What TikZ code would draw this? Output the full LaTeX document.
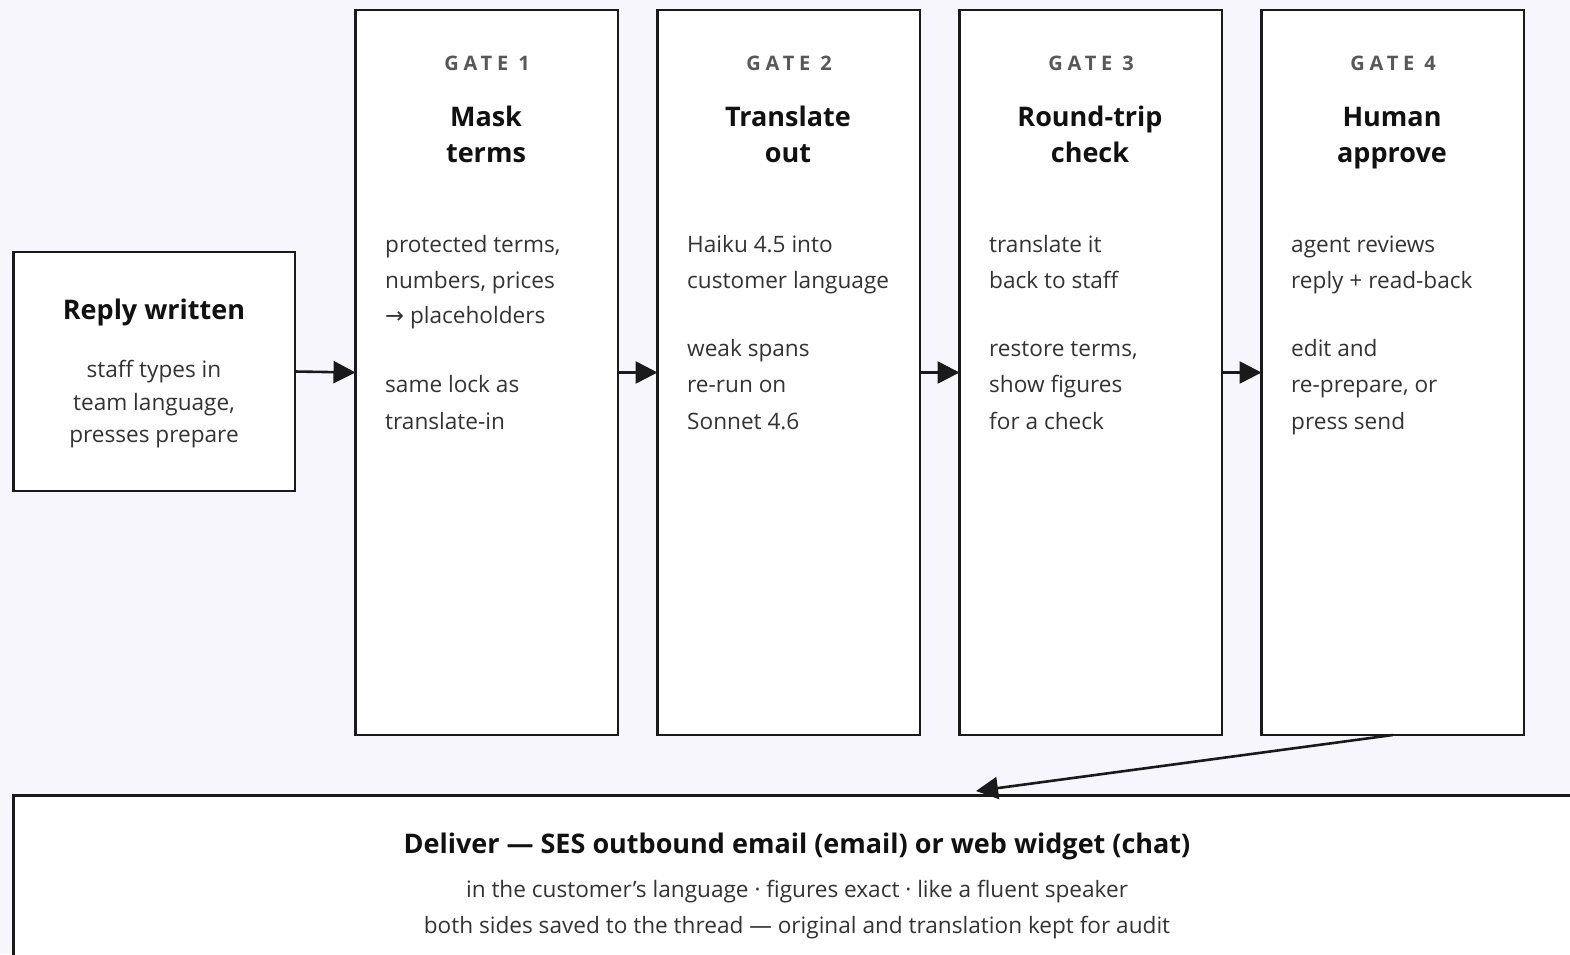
\documentclass[tikz,border=0pt]{standalone}
\usepackage{fontspec}
\setmainfont{Open Sans}
\newfontfamily\symfont{DejaVu Sans}
\usetikzlibrary{arrows.meta}
\definecolor{pagebg}{HTML}{F7F6FD}
\definecolor{edge}{HTML}{1A1A1A}
\definecolor{headc}{HTML}{111111}
\definecolor{bodyc}{HTML}{333333}
\definecolor{tagc}{HTML}{585858}
\tikzset{
  x=1pt, y=-1pt,
  box/.style={draw=edge, fill=white, line width=2.6pt, rectangle, inner sep=0pt, outer sep=0pt},
  gatebox/.style={box, minimum width=262.5pt, minimum height=725pt, anchor=north west},
  tag/.style={anchor=base, inner sep=0pt, text=tagc, font=\fontsize{20}{20}\selectfont\bfseries\addfontfeatures{LetterSpace=24}},
  head/.style={anchor=base, inner sep=0pt, text=headc, font=\fontsize{27}{27}\selectfont\bfseries},
  body/.style={anchor=base west, inner sep=0pt, text=bodyc, font=\fontsize{22.6}{22.6}\selectfont},
  cbody/.style={body, anchor=base},
  flow/.style={draw=edge, line width=2.6pt, -{Triangle[length=22pt,width=22pt]}},
}
\begin{document}
\begin{tikzpicture}
\useasboundingbox (0,0) rectangle (1570,954);
\fill[pagebg] (0,0) rectangle (1570,954);
\clip (0,0) rectangle (1570,954);

% input box
\node[box, minimum width=281.5pt, minimum height=239pt, anchor=north west] (reply) at (13.5,252) {};
\node[head] (replyh) at (154,319) {Reply written};
\node[cbody] (reply1) at (154,377) {staff types in};
\node[cbody] (reply2) at (154,410) {team language,};
\node[cbody] (reply3) at (154,442) {presses prepare};

% the four gates
\node[gatebox] (g1) at (355.5,10) {};
\node[gatebox] (g2) at (657.5,10) {};
\node[gatebox] (g3) at (959.5,10) {};
\node[gatebox] (g4) at (1261.5,10) {};

% gate 1
\node[tag]  (g1t)  at (487,70) {GATE 1};
\node[head] (g1h1) at (486,126) {Mask};
\node[head] (g1h2) at (486,162) {terms};
\node[body] (g1a) at (385,252) {protected terms,};
\node[body] (g1b) at (385,288) {numbers, prices};
\node[body] (g1c) at (385,323) {{\symfont →} placeholders};
\node[body] (g1d) at (385,392) {same lock as};
\node[body] (g1e) at (385,429) {translate-in};

% gate 2
\node[tag]  (g2t)  at (789,70) {GATE 2};
\node[head] (g2h1) at (788,126) {Translate};
\node[head] (g2h2) at (788,162) {out};
\node[body] (g2a) at (687,252) {Haiku 4.5 into};
\node[body] (g2b) at (687,288) {customer language};
\node[body] (g2c) at (687,356) {weak spans};
\node[body] (g2d) at (687,392) {re-run on};
\node[body] (g2e) at (687,429) {Sonnet 4.6};

% gate 3
\node[tag]  (g3t)  at (1091,70) {GATE 3};
\node[head] (g3h1) at (1090,126) {Round-trip};
\node[head] (g3h2) at (1090,162) {check};
\node[body] (g3a) at (989,252) {translate it};
\node[body] (g3b) at (989,288) {back to staff};
\node[body] (g3c) at (989,356) {restore terms,};
\node[body] (g3d) at (989,392) {show figures};
\node[body] (g3e) at (989,429) {for a check};

% gate 4
\node[tag]  (g4t)  at (1393,70) {GATE 4};
\node[head] (g4h1) at (1392,126) {Human};
\node[head] (g4h2) at (1392,162) {approve};
\node[body] (g4a) at (1291,252) {agent reviews};
\node[body] (g4b) at (1291,288) {reply + read-back};
\node[body] (g4c) at (1291,356) {edit and};
\node[body] (g4d) at (1291,392) {re-prepare, or};
\node[body] (g4e) at (1291,429) {press send};

% delivery box
\node[box, minimum width=1570pt, minimum height=260pt, anchor=north west] (deliver) at (13.5,795.5) {};
\node[head] (delh) at (797,853) {Deliver — SES outbound email (email) or web widget (chat)};
\node[cbody] (del1) at (797,897) {in the customer’s language · figures exact · like a fluent speaker};
\node[cbody] (del2) at (797,933) {both sides saved to the thread — original and translation kept for audit};

% connectors
\draw[flow] (reply.east) -- (g1.west);
\draw[flow] (g1.east) -- (g2.west);
\draw[flow] (g2.east) -- (g3.west);
\draw[flow] (g3.east) -- (g4.west);
\coordinate (drop) at (976,791);
\draw[flow] (g4.south) -- (drop);
\end{tikzpicture}
\end{document}
